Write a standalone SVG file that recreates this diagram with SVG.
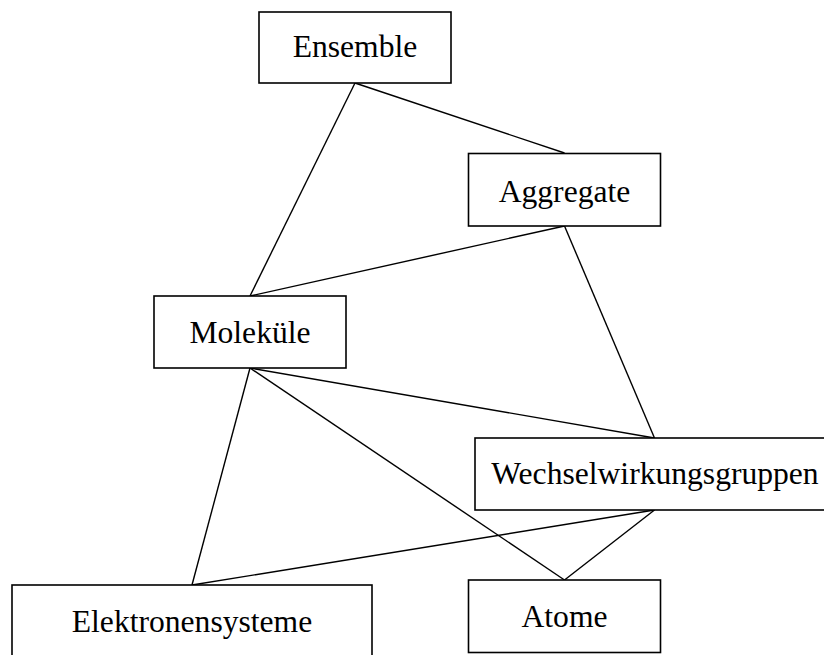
<svg xmlns="http://www.w3.org/2000/svg" width="824" height="655" viewBox="0 0 824 655">
  <style>
    .box { fill: #ffffff; stroke: #000000; stroke-width: 1.6; }
    .lbl { font-family: "Liberation Serif", "Times New Roman", serif; font-size: 31.6px; fill: #000000; text-anchor: middle; }
    .edge { stroke: #000000; stroke-width: 1.4; fill: none; }
  </style>
  <rect width="824" height="655" fill="#ffffff"/>

  <g id="connectors">
    <line class="edge" x1="355" y1="83" x2="250" y2="296"/>
    <line class="edge" x1="355" y1="83" x2="564.5" y2="153"/>
    <line class="edge" x1="564.5" y1="226" x2="250" y2="296"/>
    <line class="edge" x1="564.5" y1="226" x2="654.5" y2="438"/>
    <line class="edge" x1="250" y1="368" x2="654.5" y2="438"/>
    <line class="edge" x1="250" y1="368" x2="192" y2="585"/>
    <line class="edge" x1="250" y1="368" x2="564.5" y2="580"/>
    <line class="edge" x1="654.5" y1="510" x2="192" y2="585"/>
    <line class="edge" x1="654.5" y1="510" x2="564.5" y2="580"/>
  </g>

  <g id="ensemble">
    <rect class="box" x="259" y="12" width="192" height="71"/>
    <text class="lbl" x="355" y="57">Ensemble</text>
  </g>

  <g id="aggregate">
    <rect class="box" x="468.5" y="153.5" width="192" height="72.5"/>
    <text class="lbl" x="564.5" y="201.5">Aggregate</text>
  </g>

  <g id="molekuele">
    <rect class="box" x="154" y="296" width="192" height="72"/>
    <text class="lbl" x="250" y="342.5">Moleküle</text>
  </g>

  <g id="wechselwirkungsgruppen">
    <rect class="box" x="475" y="438" width="359" height="72"/>
    <text class="lbl" x="655" y="484">Wechselwirkungsgruppen</text>
  </g>

  <g id="elektronensysteme">
    <rect class="box" x="12" y="585" width="360" height="80"/>
    <text class="lbl" x="192" y="631.5">Elektronensysteme</text>
  </g>

  <g id="atome">
    <rect class="box" x="468.5" y="580" width="192" height="72.5"/>
    <text class="lbl" x="564.5" y="627">Atome</text>
  </g>
</svg>
